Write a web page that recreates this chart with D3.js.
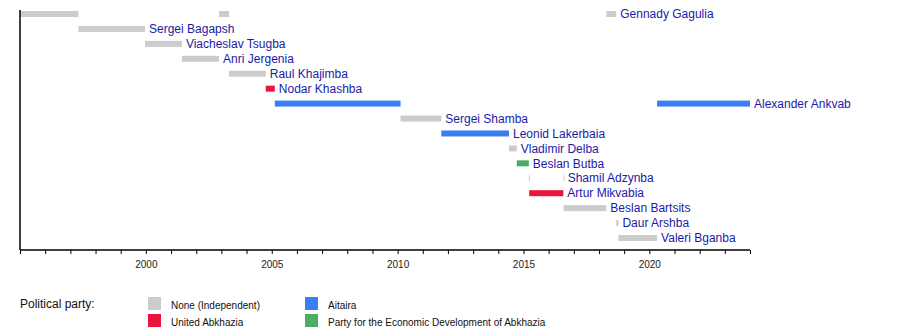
<!DOCTYPE html>
<html>
<head>
<meta charset="utf-8">
<script src="https://cdn.jsdelivr.net/npm/d3@7"></script>
<style>
  body { margin: 0; background: #fff; }
  svg { display: block; font-family: "Liberation Sans", Arial, sans-serif; }
</style>
</head>
<body>
<svg id="chart" width="900" height="330"></svg>
<script>
// ---- data ----
const people = ["Gennady Gagulia", "Sergei Bagapsh", "Viacheslav Tsugba", "Anri Jergenia",
  "Raul Khajimba", "Nodar Khashba", "Alexander Ankvab", "Sergei Shamba", "Leonid Lakerbaia",
  "Vladimir Delba", "Beslan Butba", "Shamil Adzynba", "Artur Mikvabia", "Beslan Bartsits",
  "Daur Arshba", "Valeri Bganba"];
const termPerson = ["Gennady Gagulia", "Gennady Gagulia", "Gennady Gagulia", "Sergei Bagapsh",
  "Viacheslav Tsugba", "Anri Jergenia", "Raul Khajimba", "Nodar Khashba", "Alexander Ankvab",
  "Alexander Ankvab", "Sergei Shamba", "Leonid Lakerbaia", "Vladimir Delba", "Beslan Butba",
  "Shamil Adzynba", "Shamil Adzynba", "Artur Mikvabia", "Beslan Bartsits", "Daur Arshba", "Valeri Bganba"];
const termStart = ["1995-01-01", "2002-11-29", "2018-04-18", "1997-04-29", "1999-12-20", "2001-06-07",
  "2003-04-22", "2004-10-06", "2005-02-14", "2020-04-23", "2010-02-13", "2011-09-27", "2014-06-05",
  "2014-09-26", "2015-03-20", "2016-08-02", "2015-03-25", "2016-08-06", "2018-09-08", "2018-10-10"];
const termEnd = ["1997-04-29", "2003-04-22", "2018-09-08", "1999-12-20", "2001-06-07", "2002-11-29",
  "2004-10-06", "2005-02-14", "2010-02-13", "2024-01-01", "2011-09-27", "2014-06-05", "2014-09-26",
  "2015-03-20", "2015-03-25", "2016-08-06", "2016-08-02", "2018-04-18", "2018-10-10", "2020-04-23"];
const termParty = ["None (Independent)", "None (Independent)", "None (Independent)", "None (Independent)",
  "None (Independent)", "None (Independent)", "None (Independent)", "United Abkhazia", "Aitaira",
  "Aitaira", "None (Independent)", "Aitaira", "None (Independent)",
  "Party for the Economic Development of Abkhazia", "None (Independent)", "None (Independent)",
  "United Abkhazia", "None (Independent)", "None (Independent)", "None (Independent)"];
const parties = ["None (Independent)", "United Abkhazia", "Aitaira", "Party for the Economic Development of Abkhazia"];
const partyColors = ["#cccccc", "#e8163c", "#3a7ff0", "#4cab64"];
const domainStart = "1995-01-01", domainEnd = "2024-01-01";
const labeledYears = [2000, 2005, 2010, 2015, 2020];

// ---- drawing ----
const parse = d3.timeParse("%Y-%m-%d");
const svg = d3.select("#chart");
const x = d3.scaleTime().domain([parse(domainStart), parse(domainEnd)]).range([20, 750]);
const y = d3.scalePoint().domain(people).range([14, 238]);
const color = d3.scaleOrdinal().domain(parties).range(partyColors);
const barH = 6;

const terms = termPerson.map((p, i) => ({
  person: p, start: parse(termStart[i]), end: parse(termEnd[i]), party: termParty[i]
}));

svg.append("g").selectAll("rect").data(terms).join("rect")
  .attr("x", d => x(d.start))
  .attr("y", d => y(d.person) - barH / 2)
  .attr("width", d => Math.max(1, x(d.end) - x(d.start)))
  .attr("height", barH)
  .attr("fill", d => color(d.party));

// labels after the last term of each person
const lastEnd = people.map(p => ({
  person: p, end: d3.max(terms.filter(t => t.person === p), t => t.end)
}));
svg.append("g").selectAll("text").data(lastEnd).join("text")
  .attr("x", d => x(d.end) + 4)
  .attr("y", d => y(d.person))
  .attr("dy", "0.35em")
  .attr("font-size", 12)
  .attr("fill", "#1a1aa6")
  .text(d => d.person);

// axes
const axisY = 250;
const xAxis = d3.axisBottom(x)
  .ticks(d3.timeYear.every(1))
  .tickSize(4)
  .tickFormat(d => labeledYears.includes(d.getFullYear()) ? d.getFullYear() : "");
const gx = svg.append("g").attr("transform", `translate(0,${axisY})`).call(xAxis);
gx.select(".domain").attr("d", `M${x.range()[0]},0H${x.range()[1]}`).attr("stroke", "#000").attr("stroke-width", 1.5);
gx.selectAll(".tick line").attr("stroke", "#000");
gx.selectAll(".tick text").attr("font-size", 10).attr("font-family", "Liberation Sans, Arial, sans-serif")
  .attr("fill", "#222").attr("y", 11);

svg.append("line")
  .attr("x1", x.range()[0]).attr("x2", x.range()[0])
  .attr("y1", 10).attr("y2", axisY)
  .attr("stroke", "#000").attr("stroke-width", 1.5);

// legend
svg.append("text").attr("x", 20).attr("y", 304).attr("dy", "0.35em")
  .attr("font-size", 12).attr("fill", "#111").text("Political party:");
const legPos = [[148, 297], [148, 314], [305, 297], [305, 314]];
const leg = svg.append("g").selectAll("g").data(parties).join("g")
  .attr("transform", (d, i) => `translate(${legPos[i][0]},${legPos[i][1]})`);
leg.append("rect").attr("width", 13).attr("height", 13).attr("fill", d => color(d));
leg.append("text").attr("x", 23).attr("y", 8).attr("dy", "0.35em")
  .attr("font-size", 10).attr("fill", "#111").text(d => d);
</script>
</body>
</html>
